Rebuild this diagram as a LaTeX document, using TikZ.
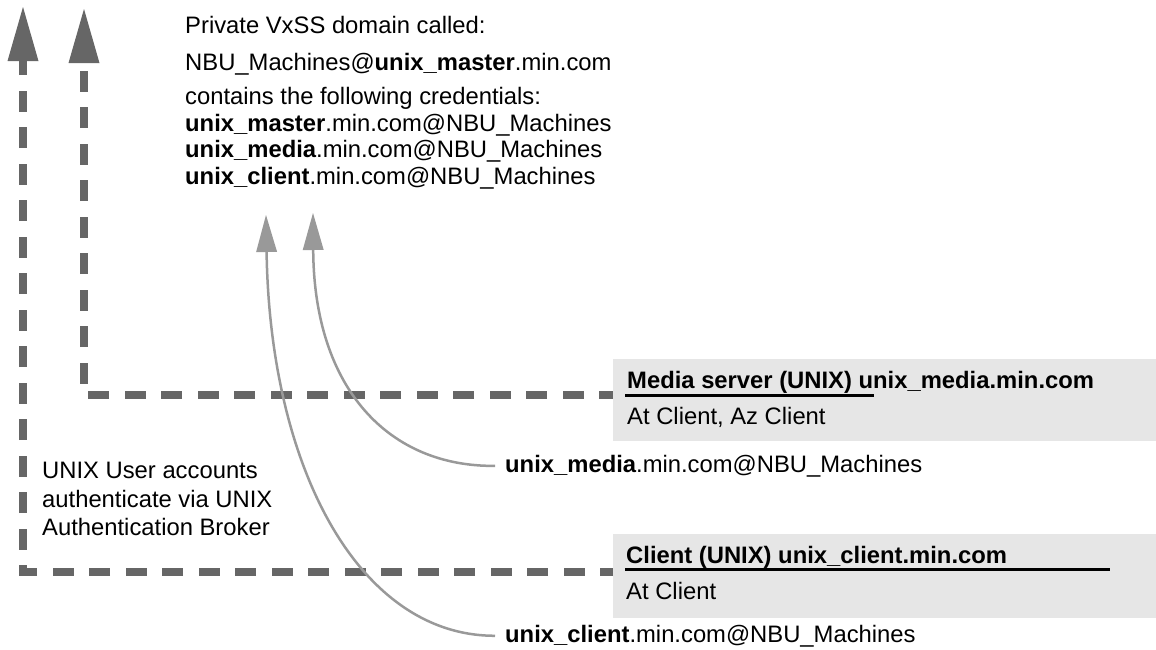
\documentclass[tikz,border=0pt]{standalone}
\usepackage{fontspec}
\setmainfont{Liberation Sans}
\usetikzlibrary{arrows.meta}
\definecolor{dashgray}{HTML}{666666}
\definecolor{curvegray}{HTML}{999999}
\definecolor{boxgray}{HTML}{E6E6E6}
\begin{document}
\begin{tikzpicture}[x=1pt,y=-1pt,
  txt/.style={inner sep=0pt, anchor=base west, font=\fontsize{23.8}{28}\selectfont},
  graybox/.style={fill=boxgray, draw=none, inner sep=0pt, anchor=north west},
  dashline/.style={draw=dashgray, line width=8pt, dash pattern=on 21pt off 15.5pt,
    -{Triangle[width=31pt,length=54pt,line width=0pt]}},
  curveline/.style={draw=curvegray, line width=2.5pt,
    -{Triangle[width=21pt,length=37pt,line width=0pt]}},
  uline/.style={draw=black, line width=3pt}]
\useasboundingbox (0,0) rectangle (1156,649);

% gray boxes
\node[graybox, minimum width=543pt, minimum height=82pt] (mediabox) at (613,359) {};
\node[graybox, minimum width=543pt, minimum height=84pt] (clientbox) at (613,534) {};

% top text block
\node[txt] (t1) at (185,33) {Private VxSS domain called:};
\node[txt] (t2) at (185,70) {NBU\_Machines@\textbf{unix\_master}.min.com};
\node[txt] (t3) at (185,104) {contains the following credentials:};
\node[txt] (t4) at (185,131) {\textbf{unix\_master}.min.com@NBU\_Machines};
\node[txt] (t5) at (185,157) {\textbf{unix\_media}.min.com@NBU\_Machines};
\node[txt] (t6) at (185,184) {\textbf{unix\_client}.min.com@NBU\_Machines};

% box texts
\node[txt] (mtitle) at (627,388) {\textbf{Media server (UNIX) unix\_media.min.com}};
\node[txt] (msub) at (627,424) {At Client, Az Client};
\node[txt] (ctitle) at (626,563) {\textbf{Client (UNIX) unix\_client.min.com}};
\node[txt] (csub) at (626,599) {At Client};
\draw[uline] ([xshift=12pt,yshift=-36pt]mediabox.north west) -- ++(249,0);
\draw[uline] ([xshift=12pt,yshift=-35pt]clientbox.north west) -- ++(485,0);

% labels
\node[txt] (mlab) at (505,472) {\textbf{unix\_media}.min.com@NBU\_Machines};
\node[txt] (clab) at (505,642) {\textbf{unix\_client}.min.com@NBU\_Machines};
\node[txt] (u1) at (42,478) {UNIX User accounts};
\node[txt] (u2) at (42,507) {authenticate via UNIX};
\node[txt] (u3) at (42,535) {Authentication Broker};

% dashed connectors
\coordinate (tipA) at (23,7);
\coordinate (tipB) at (84,9);
\draw[dashline, dash phase=8pt] ([yshift=-38pt]clientbox.north west) -| (tipA);
\draw[dashline, dash phase=7pt] ([yshift=-36pt]mediabox.north west) -| (tipB);

% curved connectors
\coordinate (tipM) at (313,213);
\coordinate (tipC) at (266,215);
\draw[curveline, shorten <=10pt] (mlab.west) .. controls (390,467) and (314,390) .. (tipM);
\draw[curveline, shorten <=10pt] (clab.west) .. controls (360,636) and (270,470) .. (tipC);
\end{tikzpicture}
\end{document}
